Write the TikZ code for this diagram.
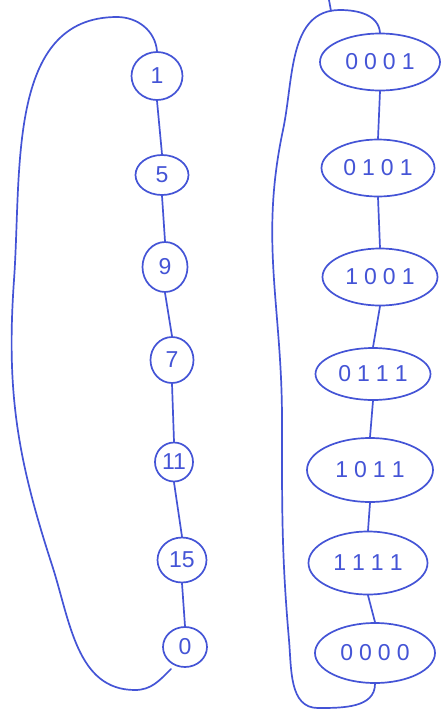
\documentclass[tikz,border=0pt]{standalone}
\usepackage{fontspec}
\setmainfont{Liberation Sans}
\usetikzlibrary{shapes.geometric}
\definecolor{ink}{RGB}{68,84,214}
\tikzset{
  x=1pt, y=-1pt,
  pen/.style={draw=ink, line width=1.7pt, line cap=round, line join=round},
  numnode/.style={pen, ellipse, inner sep=0pt, text=ink,
    font=\fontsize{23}{23}\selectfont},
  bits/.style={numnode, minimum width=118pt, minimum height=57pt},
}
\newcommand{\bitrow}[4]{#1\kern6pt#2\kern6pt#3\kern6pt#4}
\begin{document}
\begin{tikzpicture}
\useasboundingbox[fill=white] (0,0) rectangle (445,713);

% left chain of states
\node[numnode, minimum width=51pt, minimum height=48pt] (n1)  at (157,76)  {1};
\node[numnode, minimum width=53pt, minimum height=40pt] (n5)  at (162,175) {5};
\node[numnode, minimum width=45pt, minimum height=50pt] (n9)  at (165,267) {9};
\node[numnode, minimum width=43pt, minimum height=46pt] (n7)  at (172,360) {7};
\node[numnode, minimum width=38pt, minimum height=39pt] (n11) at (174,462) {11};
\node[numnode, minimum width=49pt, minimum height=45pt] (n15) at (182,560) {15};
\node[numnode, minimum width=44pt, minimum height=40pt] (n0)  at (185,647) {0};

\draw[pen] (n1.south) -- (n5.north);
\draw[pen] (n5.south) -- (n9.north);
\draw[pen] (n9.south) -- (n7.north);
\draw[pen] (n7.south) -- (n11.north);
\draw[pen] (n11.south) -- (n15.north);
\draw[pen] (n15.south) -- (n0.north);

% return loop of the left chain
\coordinate (ltop) at (117,17);
\coordinate (lleft) at (14,280);
\coordinate (lmid) at (52,565);
\coordinate (lbot) at (135,690);
\coordinate (lend) at (171,669);
\draw[pen] (n1.north) to[out=95,in=0] (ltop)
  to[out=180,in=86] (lleft)
  to[out=-94,in=108] (lmid)
  to[out=-72,in=180] (lbot)
  to[out=0,in=225] (lend);

% right chain of bit patterns
\node[bits, minimum width=120pt] (b0001) at (380,62)  {\bitrow0001};
\node[bits, minimum width=113pt] (b0101) at (378,168) {\bitrow0101};
\node[bits, minimum width=115pt] (b1001) at (380,277) {\bitrow1001};
\node[bits, minimum width=115pt, minimum height=52pt] (b0111) at (373,374) {\bitrow0111};
\node[bits, minimum width=126pt, minimum height=64pt] (b1011) at (370,470) {\bitrow1011};
\node[bits, minimum width=119pt, minimum height=63pt] (b1111) at (368,563) {\bitrow1111};
\node[bits, minimum width=120pt, minimum height=60pt] (b0000) at (375,653) {\bitrow0000};

\draw[pen] (b0001.south) -- (b0101.north);
\draw[pen] (b0101.south) -- (b1001.north);
\draw[pen] (b1001.south) -- (b0111.north);
\draw[pen] (b0111.south) -- (b1011.north);
\draw[pen] (b1011.south) -- (b1111.north);
\draw[pen] (b1111.south) -- (b0000.north);

% return loop of the right chain
\coordinate (rtop) at (340,10);
\coordinate (rleft) at (283,130);
\coordinate (rmid) at (282,420);
\coordinate (rlow) at (289,640);
\coordinate (rbot) at (318,708);
\draw[pen] (b0001.north) to[out=95,in=0] (rtop)
  to[out=180,in=78] (rleft)
  to[out=-102,in=90] (rmid)
  to[out=-90,in=95] (rlow)
  to[out=-85,in=180] (rbot)
  to[out=0,in=-90] (b0000.south);

% short stroke leaving the top edge
\coordinate (tickA) at (329,0);
\coordinate (tickB) at (331,11);
\draw[pen] (tickA) -- (tickB);
\end{tikzpicture}
\end{document}
